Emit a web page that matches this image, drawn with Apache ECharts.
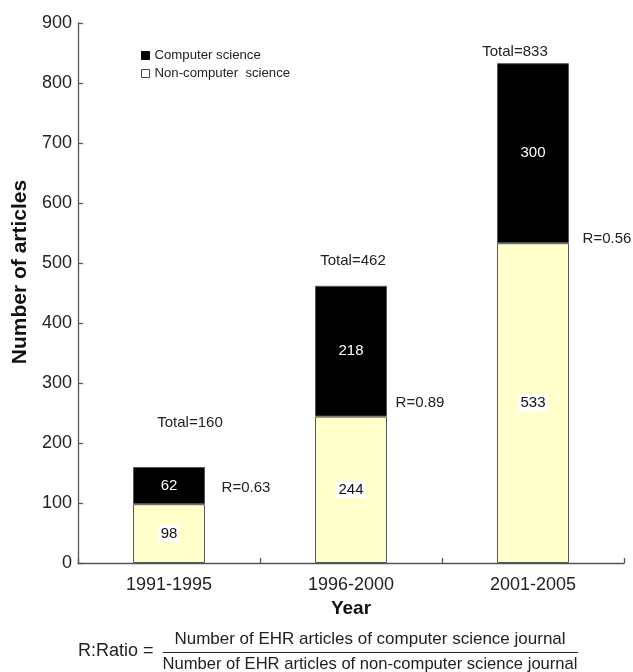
<!DOCTYPE html>
<html>
<head>
<meta charset="utf-8">
<script src="https://cdn.jsdelivr.net/npm/echarts@6/dist/echarts.min.js"></script>
<style>html,body{margin:0;padding:0;background:#fff;}#c{width:633px;height:672px;}</style>
</head>
<body>
<div id="c"></div>
<script>
var categories = ['1991-1995', '1996-2000', '2001-2005'];
var computerScience = [62, 218, 300];
var nonComputerScience = [98, 244, 533];
var totals = [160, 462, 833];
var ratios = ['0.63', '0.89', '0.56'];
var yTicks = { min: 0, max: 900, interval: 100 };

var totalOffsets = [[21, -44], [2, -25], [-18, -11]];
var ratioOffsets = [[77, -16], [69, -14], [74, -4]];

var FONT = 'Liberation Sans, Arial, sans-serif';
var chart = echarts.init(document.getElementById('c'));

var totalPoints = categories.map(function (c, i) {
  return { coord: [c, totals[i]], value: totals[i],
    label: { offset: totalOffsets[i], formatter: 'Total=' + totals[i] } };
});
var ratioPoints = categories.map(function (c, i) {
  return { coord: [c, nonComputerScience[i]], value: ratios[i],
    label: { offset: ratioOffsets[i], formatter: 'R=' + ratios[i] } };
});

chart.setOption({
  animation: false,
  backgroundColor: '#fff',
  textStyle: { fontFamily: FONT },
  grid: { left: 78, right: 9, top: 23, bottom: 109 },
  legend: {
    orient: 'vertical', left: 136, top: 44,
    itemWidth: 8, itemHeight: 8, itemGap: 5,
    textStyle: { fontSize: 13.2, color: '#222', fontFamily: FONT },
    data: [
      { name: 'Computer science', icon: 'rect', itemStyle: { color: '#000', borderColor: '#000', borderWidth: 1 } },
      { name: 'Non-computer  science', icon: 'rect', itemStyle: { color: '#fff', borderColor: '#444', borderWidth: 1 } }
    ]
  },
  xAxis: {
    type: 'category', data: categories,
    name: 'Year', nameLocation: 'middle', nameGap: 35,
    nameTextStyle: { fontSize: 19, fontWeight: 'bold', color: '#111', fontFamily: FONT },
    axisLine: { lineStyle: { color: '#555', width: 1.3 } },
    axisTick: { show: true, inside: true, length: 5, lineStyle: { color: '#555', width: 1.3 } },
    axisLabel: { fontSize: 18, color: '#222', margin: 13, fontFamily: FONT },
    splitLine: { show: false }
  },
  yAxis: {
    type: 'value', min: yTicks.min, max: yTicks.max, interval: yTicks.interval,
    axisLine: { show: true, lineStyle: { color: '#555', width: 1.3 } },
    axisTick: { show: true, inside: true, length: 5, lineStyle: { color: '#555', width: 1.3 } },
    axisLabel: { fontSize: 18, color: '#222', margin: 6, fontFamily: FONT },
    splitLine: { show: false }
  },
  series: [
    {
      name: 'Non-computer  science', type: 'bar', stack: 'a', barWidth: 72,
      data: nonComputerScience,
      itemStyle: { color: '#FFFFCC', borderColor: '#555', borderWidth: 1 },
      label: { show: true, position: 'inside', fontSize: 15, color: '#111',
        backgroundColor: '#fff', padding: [1, 2], fontFamily: FONT },
      markPoint: { symbolSize: 0, silent: true,
        label: { show: true, fontSize: 15, color: '#222', fontFamily: FONT },
        data: ratioPoints }
    },
    {
      name: 'Computer science', type: 'bar', stack: 'a', barWidth: 72,
      data: computerScience,
      itemStyle: { color: '#000', borderColor: '#555', borderWidth: 1 },
      label: { show: true, position: 'inside', fontSize: 15, color: '#fff', fontFamily: FONT },
      markPoint: { symbolSize: 0, silent: true,
        label: { show: true, fontSize: 15, color: '#222', fontFamily: FONT },
        data: totalPoints }
    }
  ],
  graphic: [
    { type: 'text', x: 20, y: 272, rotation: Math.PI / 2,
      style: { text: 'Number of articles', fontSize: 21, fontWeight: 'bold', fill: '#111',
        fontFamily: FONT, textAlign: 'center', textVerticalAlign: 'middle' } },
    { type: 'text', x: 78, y: 651,
      style: { text: 'R:Ratio =', fontSize: 18, fill: '#222', fontFamily: FONT, textVerticalAlign: 'middle' } },
    { type: 'text', x: 370, y: 639,
      style: { text: 'Number of EHR articles of computer science journal', fontSize: 17, fill: '#222',
        fontFamily: FONT, textAlign: 'center', textVerticalAlign: 'middle' } },
    { type: 'line', shape: { x1: 163, y1: 652.5, x2: 578, y2: 652.5 },
      style: { stroke: '#222', lineWidth: 1 } },
    { type: 'text', x: 370, y: 664,
      style: { text: 'Number of EHR articles of non-computer science journal', fontSize: 16.6, fill: '#222',
        fontFamily: FONT, textAlign: 'center', textVerticalAlign: 'middle' } }
  ]
});
</script>
</body>
</html>
